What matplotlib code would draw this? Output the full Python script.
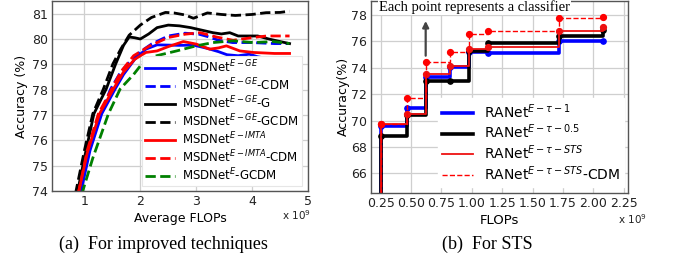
import matplotlib
matplotlib.use("Agg")
import matplotlib.pyplot as plt

# ---------------- Left panel data (FLOPs in 1e9, accuracy %) ----------------
ge_gcdm_x = [0.80, 0.85, 1.0, 1.15, 1.34, 1.51, 1.65, 1.80, 2.0, 2.2, 2.45, 2.6, 2.8, 2.95, 3.2, 3.45, 3.7, 4.0, 4.25, 4.5, 4.67]
ge_gcdm_y = [73.3, 74.0, 75.6, 77.05, 78.03, 79.02, 79.6, 80.15, 80.55, 80.85, 81.05, 81.03, 80.95, 80.82, 81.03, 80.97, 80.93, 80.97, 81.04, 81.05, 81.1]

ge_g_x = [0.80, 0.88, 1.0, 1.17, 1.39, 1.56, 1.7, 1.8, 1.9, 2.0, 2.15, 2.3, 2.5, 2.7, 2.9, 3.1, 3.3, 3.45, 3.6, 3.75, 3.95, 4.1, 4.3, 4.5, 4.67]
ge_g_y = [73.4, 74.0, 75.3, 77.05, 78.03, 79.02, 79.75, 80.08, 80.05, 80.0, 80.2, 80.45, 80.55, 80.52, 80.45, 80.35, 80.25, 80.2, 80.25, 80.12, 80.12, 80.12, 80.0, 79.9, 79.82]

ge_x = [0.85, 0.94, 1.1, 1.31, 1.55, 1.7, 1.9, 2.1, 2.3, 2.5, 2.7, 2.95, 3.2, 3.4, 3.55, 3.75, 3.95, 4.1, 4.3, 4.5, 4.67]
ge_y = [73.3, 74.0, 75.6, 77.05, 78.03, 78.6, 79.2, 79.6, 79.77, 79.76, 79.75, 79.76, 79.63, 79.5, 79.38, 79.34, 79.4, 79.3, 79.22, 79.18, 79.14]

ge_cdm_x = [0.85, 0.93, 1.1, 1.29, 1.47, 1.65, 1.85, 2.0, 2.2, 2.5, 2.8, 3.05, 3.2, 3.4, 3.65, 4.0, 4.4, 4.67]
ge_cdm_y = [73.3, 74.0, 75.8, 77.05, 78.03, 78.7, 79.2, 79.5, 79.8, 80.12, 80.23, 80.19, 80.1, 79.95, 79.86, 79.86, 79.82, 79.82]

imta_x = [0.82, 0.9, 1.05, 1.27, 1.52, 1.7, 1.9, 2.1, 2.3, 2.5, 2.77, 3.0, 3.24, 3.4, 3.54, 3.78, 4.02, 4.4, 4.67]
imta_y = [73.3, 74.0, 75.5, 77.05, 78.03, 78.7, 79.2, 79.47, 79.53, 79.7, 79.9, 79.8, 79.6, 79.65, 79.73, 79.53, 79.47, 79.43, 79.43]

imta_cdm_x = [0.82, 0.9, 1.05, 1.25, 1.49, 1.65, 1.88, 2.17, 2.5, 2.8, 3.07, 3.36, 3.66, 4.02, 4.26, 4.67]
imta_cdm_y = [73.3, 74.0, 75.6, 77.05, 78.03, 78.7, 79.34, 79.73, 80.06, 80.19, 80.25, 80.08, 79.95, 80.06, 80.12, 80.12]

e_gcdm_x = [0.88, 0.97, 1.15, 1.43, 1.64, 1.88, 2.05, 2.29, 2.65, 3.0, 3.3, 3.66, 4.02, 4.38, 4.67]
e_gcdm_y = [73.3, 74.0, 75.3, 77.05, 78.03, 78.6, 79.08, 79.34, 79.53, 79.73, 79.86, 79.93, 79.86, 79.9, 79.82]

left_yticks = [74, 75, 76, 77, 78, 79, 80, 81]
left_xticks = [1, 2, 3, 4, 5]

# ---------------- Right panel data ----------------
ra_flops = [0.25, 0.47, 0.62, 0.82, 0.98, 1.13, 1.72, 2.08]
ra_tau1 = [69.59, 70.95, 73.33, 74.03, 75.16, 75.11, 76.04, 76.00]
ra_tau05 = [68.81, 70.39, 72.98, 72.98, 75.24, 75.84, 76.42, 76.85]
ra_sts = [69.71, 70.52, 73.53, 74.16, 75.41, 75.54, 76.80, 77.05]
ra_sts_cdm = [69.77, 71.70, 74.46, 75.16, 76.54, 76.80, 77.80, 77.85]
ra_floor = 60.0  # curves rise from below the visible range at the first classifier
right_xticks = [0.25, 0.50, 0.75, 1.00, 1.25, 1.50, 1.75, 2.00, 2.25]
right_yticks = [66, 68, 70, 72, 74, 76, 78]

# ---------------- Figure ----------------
W, H = 673, 256
fig = plt.figure(figsize=(W / 100, H / 100), dpi=100)
plt.rcParams['font.family'] = ['DejaVu Sans']

spine_col = '#555555'
grid_col = '#cfcfcf'


def style_axes(ax):
    ax.grid(True, color=grid_col, linewidth=0.9)
    ax.set_axisbelow(True)
    for s in ax.spines.values():
        s.set_color(spine_col)
        s.set_linewidth(1.0)
    ax.tick_params(length=0, labelsize=9, pad=3, colors='#222222')


# Left axes
axL = fig.add_axes([52 / W, 1 - 191 / H, (308 - 52) / W, 191 / H - 0.004])
style_axes(axL)
lw = 2.0
axL.plot(ge_x, ge_y, color='blue', lw=lw, label=r'MSDNet$^{E-GE}$')
axL.plot(ge_cdm_x, ge_cdm_y, color='blue', lw=lw, ls='--', label=r'MSDNet$^{E-GE}$-CDM')
axL.plot(ge_g_x, ge_g_y, color='black', lw=lw, label=r'MSDNet$^{E-GE}$-G')
axL.plot(ge_gcdm_x, ge_gcdm_y, color='black', lw=lw, ls='--', label=r'MSDNet$^{E-GE}$-GCDM')
axL.plot(imta_x, imta_y, color='red', lw=lw, label=r'MSDNet$^{E-IMTA}$')
axL.plot(imta_cdm_x, imta_cdm_y, color='red', lw=lw, ls='--', label=r'MSDNet$^{E-IMTA}$-CDM')
axL.plot(e_gcdm_x, e_gcdm_y, color='green', lw=lw, ls='--', label=r'MSDNet$^{E}$-GCDM')
axL.set_xlim(0.42, 5.0)
axL.set_ylim(74, 81.5)
axL.set_xticks(left_xticks)
axL.set_yticks(left_yticks)
axL.set_ylabel('Accuracy (%)', fontsize=9, labelpad=3)
axL.set_xlabel('Average FLOPs', fontsize=9, labelpad=3)
leg = axL.legend(loc='lower right', bbox_to_anchor=(0.975, 0.025), fontsize=8.5,
                 handlelength=2.6, handletextpad=0.6, labelspacing=0.12,
                 borderaxespad=0, frameon=True, fancybox=False, framealpha=1,
                 borderpad=0.25)
leg.get_frame().set_edgecolor('#e6e6e6')
leg.get_frame().set_linewidth(0.8)
fig.text(296 / W, 1 - 215 / H, r'x 10$^{9}$', fontsize=7.5, ha='center', va='center', color='#222222')

# Right axes
axR = fig.add_axes([371 / W, 1 - 192.7 / H, (628 - 371) / W, 192.7 / H - 0.004])
style_axes(axR)
step_x = [ra_flops[0]] + ra_flops


def step_series(vals, color, lw_, ls, ms, label):
    axR.step(step_x, [ra_floor] + vals, where='post', color=color, lw=lw_, ls=ls, label=label)
    axR.plot(ra_flops, vals, ls='none', marker='o', color=color, ms=ms)


step_series(ra_tau1, 'blue', 2.6, '-', 3.8, r'RANet$^{E-\tau-1}$')
step_series(ra_tau05, 'black', 2.6, '-', 3.8, r'RANet$^{E-\tau-0.5}$')
step_series(ra_sts, '#ee1111', 1.3, '-', 4.2, r'RANet$^{E-\tau-STS}$')
step_series(ra_sts_cdm, 'red', 1.0, '--', 4.2, r'RANet$^{E-\tau-STS}$-CDM')
axR.set_xlim(0.17, 2.285)
axR.set_ylim(64.54, 79.05)
axR.set_xticks(right_xticks)
axR.set_xticklabels([f'{v:.2f}' for v in right_xticks])
axR.set_yticks(right_yticks)
axR.set_ylabel('Accuracy(%)', fontsize=9, labelpad=1)
axR.set_xlabel('FLOPs', fontsize=9.5, labelpad=3)
legR = axR.legend(loc='lower right', bbox_to_anchor=(0.985, 0.03), fontsize=10,
                  handlelength=2.2, handletextpad=0.8, labelspacing=0.15,
                  borderaxespad=0, frameon=True, fancybox=False, framealpha=1,
                  borderpad=0.3)
legR.get_frame().set_edgecolor('white')
fig.text(632 / W, 1 - 219 / H, r'x 10$^{9}$', fontsize=7.5, ha='center', va='center', color='#222222')

axR.annotate('', xy=(0.62, 77.75), xytext=(0.62, 74.7),
             arrowprops=dict(arrowstyle='-|>', color='#444444', lw=1.6, mutation_scale=9))
axR.text(0.235, 78.6, 'Each point represents a classifier', family='Liberation Serif',
         fontsize=10.5, ha='left', va='center',
         bbox=dict(facecolor='white', edgecolor='none', pad=0.5))

# Captions
fig.text(163 / W, 1 - 244 / H, '(a)  For improved techniques', family='Liberation Serif',
         fontsize=13, ha='center', va='center')
fig.text(487 / W, 1 - 244 / H, '(b)  For STS', family='Liberation Serif',
         fontsize=13, ha='center', va='center')

fig.savefig('out.png', dpi=100)
